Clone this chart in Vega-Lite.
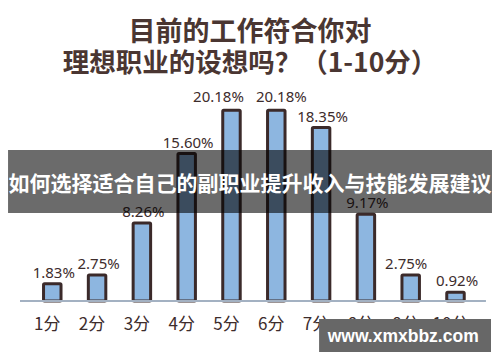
{
  "$schema": "https://vega.github.io/schema/vega-lite/v6.json",
  "width": 500,
  "height": 362,
  "padding": 0,
  "autosize": {"type": "none"},
  "background": "#ffffff",
  "config": {"view": {"stroke": null}},
  "data": {
    "values": [
      {"score": "1分", "pct": 1.83, "label": "1.83%"},
      {"score": "2分", "pct": 2.75, "label": "2.75%"},
      {"score": "3分", "pct": 8.26, "label": "8.26%"},
      {"score": "4分", "pct": 15.60, "label": "15.60%"},
      {"score": "5分", "pct": 20.18, "label": "20.18%"},
      {"score": "6分", "pct": 20.18, "label": "20.18%"},
      {"score": "7分", "pct": 18.35, "label": "18.35%"},
      {"score": "8分", "pct": 9.17, "label": "9.17%"},
      {"score": "9分", "pct": 2.75, "label": "2.75%"},
      {"score": "10分", "pct": 0.92, "label": "0.92%"}
    ]
  },
  "encoding": {
    "x": {
      "field": "score",
      "type": "nominal",
      "axis": null,
      "scale": {
        "domain": ["1分", "2分", "3分", "4分", "5分", "6分", "7分", "8分", "9分", "10分"],
        "paddingInner": 0.61,
        "paddingOuter": 0.885,
        "align": 0.549
      }
    }
  },
  "layer": [
    {
      "mark": {"type": "bar", "fill": "#8db6e0", "stroke": "#3b2a2a", "strokeWidth": 3, "cornerRadius": 1},
      "encoding": {
        "y": {
          "field": "pct",
          "type": "quantitative",
          "axis": null,
          "scale": {"domain": [-6.455, 31.85], "nice": false, "zero": false}
        },
        "y2": {"datum": 0}
      }
    },
    {
      "mark": {"type": "rule", "stroke": "#a3b1c2", "strokeWidth": 2, "xOffset": -23.5, "x2Offset": 21},
      "encoding": {
        "x": {"datum": "1分", "bandPosition": 0},
        "x2": {"datum": "10分", "bandPosition": 1},
        "y": {"datum": 0, "type": "quantitative"}
      }
    },
    {
      "transform": [{"filter": "datum.score !== '5分' && datum.score !== '6分' && datum.score !== '9分'"}],
      "mark": {"type": "text", "font": "Noto Sans", "fontSize": 15, "color": "#3d2c2c", "baseline": "alphabetic", "dy": -6, "dx": 1.5},
      "encoding": {
        "y": {"field": "pct", "type": "quantitative"},
        "text": {"field": "label"}
      }
    },
    {
      "transform": [{"filter": "datum.score === '5分'"}],
      "mark": {"type": "text", "font": "Noto Sans", "fontSize": 15, "color": "#3d2c2c", "baseline": "alphabetic", "dy": -8, "dx": -13},
      "encoding": {
        "y": {"field": "pct", "type": "quantitative"},
        "text": {"field": "label"}
      }
    },
    {
      "transform": [{"filter": "datum.score === '6分'"}],
      "mark": {"type": "text", "font": "Noto Sans", "fontSize": 15, "color": "#3d2c2c", "baseline": "alphabetic", "dy": -8, "dx": 5},
      "encoding": {
        "y": {"field": "pct", "type": "quantitative"},
        "text": {"field": "label"}
      }
    },
    {
      "transform": [{"filter": "datum.score === '9分'"}],
      "mark": {"type": "text", "font": "Noto Sans", "fontSize": 15, "color": "#3d2c2c", "baseline": "alphabetic", "dy": -6, "dx": -4.5},
      "encoding": {
        "y": {"field": "pct", "type": "quantitative"},
        "text": {"field": "label"}
      }
    },
    {
      "mark": {"type": "text", "font": "Noto Sans CJK SC", "fontSize": 17, "color": "#3d2c2c", "baseline": "middle", "dx": -5},
      "encoding": {
        "y": {"datum": -2.54, "type": "quantitative"},
        "text": {"field": "score"}
      }
    },
    {
      "data": {"values": [{"line": "目前的工作符合你对"}]},
      "mark": {"type": "text", "font": "Noto Sans CJK SC", "fontWeight": "bold", "fontSize": 27, "color": "#4a3632", "baseline": "middle"},
      "encoding": {
        "x": null,
        "y": {"datum": 28.41, "type": "quantitative"},
        "text": {"field": "line"}
      }
    },
    {
      "data": {"values": [{"line": "理想职业的设想吗？（1-10分）"}]},
      "mark": {"type": "text", "font": "Noto Sans CJK SC", "fontWeight": "bold", "fontSize": 26.5, "color": "#4a3632", "baseline": "middle"},
      "encoding": {
        "x": null,
        "y": {"datum": 25.08, "type": "quantitative"},
        "text": {"field": "line"}
      }
    },
    {
      "data": {"values": [{"banner": "如何选择适合自己的副职业提升收入与技能发展建议"}]},
      "mark": {"type": "rect", "fill": "#000000", "opacity": 0.58, "xOffset": -35.5, "x2Offset": 27.75},
      "encoding": {
        "x": {"datum": "1分", "bandPosition": 0},
        "x2": {"datum": "10分", "bandPosition": 1},
        "y": {"datum": 15.98, "type": "quantitative"},
        "y2": {"datum": 9.31}
      }
    },
    {
      "data": {"values": [{"banner": "如何选择适合自己的副职业提升收入与技能发展建议"}]},
      "mark": {"type": "text", "font": "Noto Sans CJK SC", "fontWeight": "bold", "fontSize": 21, "color": "#ffffff", "baseline": "middle"},
      "encoding": {
        "x": null,
        "y": {"datum": 12.28, "type": "quantitative"},
        "text": {"field": "banner"}
      }
    },
    {
      "data": {"values": [{"mark": "www.xmxbbz.com"}]},
      "mark": {"type": "rect", "fill": "#676767", "xOffset": -2, "x2Offset": 35.5},
      "encoding": {
        "x": {"datum": "7分", "bandPosition": 0.5},
        "x2": {"datum": "10分", "bandPosition": 0.5},
        "y": {"datum": -1.905, "type": "quantitative"},
        "y2": {"datum": -5.40}
      }
    },
    {
      "data": {"values": [{"mark": "www.xmxbbz.com"}]},
      "mark": {"type": "text", "font": "Liberation Sans", "fontWeight": "bold", "fontSize": 17.5, "color": "#ffffff", "baseline": "middle", "dx": -7.5},
      "encoding": {
        "x": {"datum": "9分"},
        "y": {"datum": -3.81, "type": "quantitative"},
        "text": {"field": "mark"}
      }
    }
  ]
}
